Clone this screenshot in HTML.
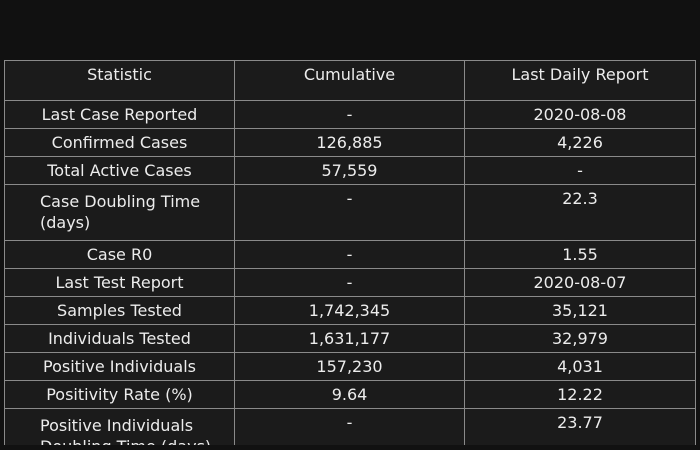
<!DOCTYPE html>
<html><head><meta charset="utf-8"><style>
html,body{margin:0;padding:0;background:#111;width:700px;height:450px;overflow:hidden}
#wrap{position:absolute;left:0;top:0;width:700px;height:445px;overflow:hidden}
.c{position:absolute;box-sizing:border-box;border:1px solid #8a8a8a;background:#1b1b1b;color:#ececec;font-family:"DejaVu Sans","Liberation Sans",sans-serif;font-size:16px;line-height:21px;text-align:center;padding-top:3px}
.w{text-align:left;padding-left:35px;padding-top:6px}
</style></head><body>
<div id="wrap"></div>
<script>
const rows=[
["Statistic","Cumulative","Last Daily Report"],
["Last Case Reported","-","2020-08-08"],
["Confirmed Cases","126,885","4,226"],
["Total Active Cases","57,559","-"],
["Case Doubling Time (days)","-","22.3"],
["Case R0","-","1.55"],
["Last Test Report","-","2020-08-07"],
["Samples Tested","1,742,345","35,121"],
["Individuals Tested","1,631,177","32,979"],
["Positive Individuals","157,230","4,031"],
["Positivity Rate (%)","9.64","12.22"],
["Positive Individuals Doubling Time (days)","-","23.77"]];
const ys=[60,100,128,156,184,240,268,296,324,352,380,408,464];
const xs=[4,234,464,695];
const wrap=document.getElementById('wrap');
rows.forEach((r,i)=>{r.forEach((t,j)=>{
const d=document.createElement('div');
d.className='c'+((j==0&&(i==4||i==11))?' w':'');
d.style.left=xs[j]+'px';d.style.top=ys[i]+'px';
d.style.width=(xs[j+1]-xs[j]+1)+'px';d.style.height=(ys[i+1]-ys[i]+1)+'px';
d.textContent=t;


wrap.appendChild(d);});});
</script>
</body></html>
